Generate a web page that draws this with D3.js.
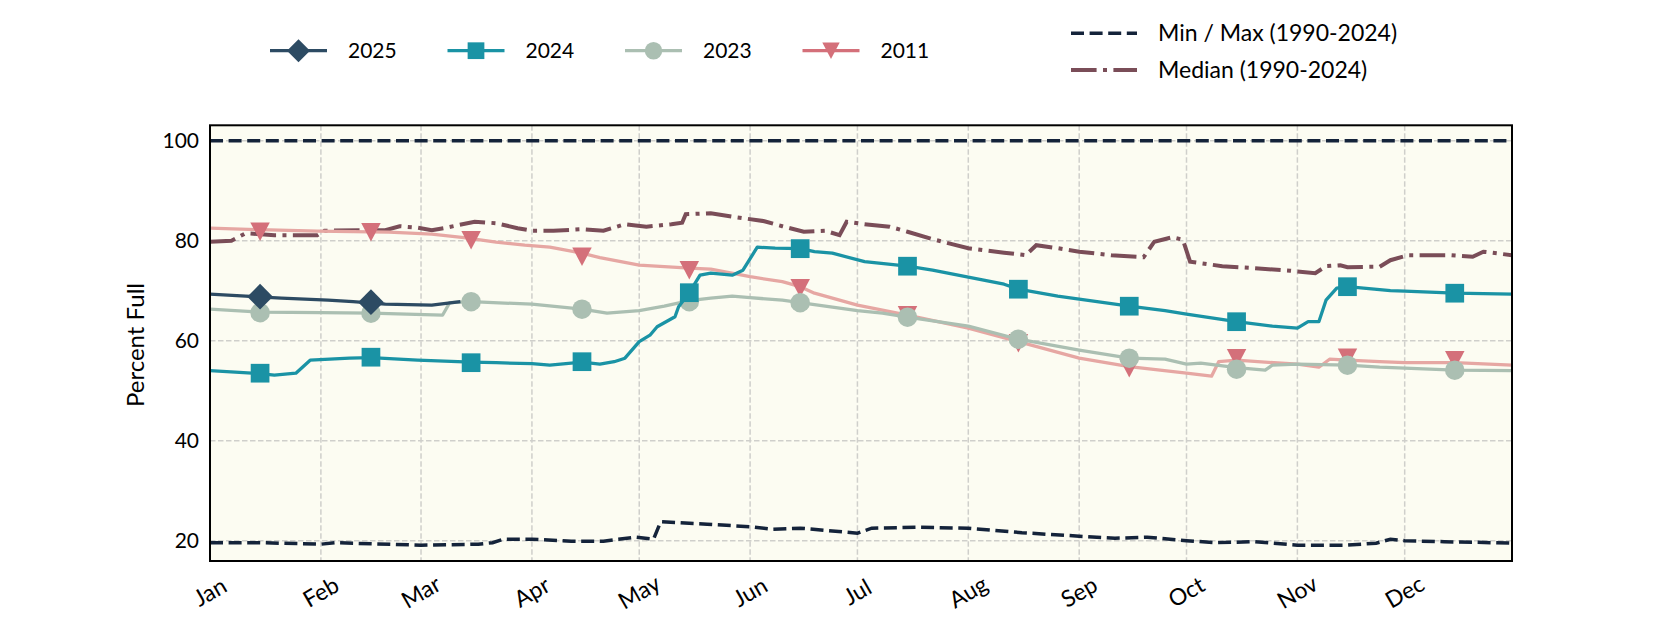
<!DOCTYPE html>
<html>

<head>
    <title>Percent Full</title>
    <script src="https://d3js.org/d3.v7.min.js"></script>
    <style>
        body { margin: 0; background: #ffffff; }
        text { font-family: Lato, "Open Sans", sans-serif; fill: #000; }
    </style>
</head>

<body>
    <script>
        // ---- data ----
        var monthLabels = ["Jan", "Feb", "Mar", "Apr", "May", "Jun", "Jul", "Aug", "Sep", "Oct", "Nov", "Dec"];
        var yTicks = [20, 40, 60, 80, 100];
        var markerDates = ["01-15", "02-15", "03-15", "04-15", "05-15", "06-15", "07-15", "08-15", "09-15", "10-15", "11-15", "12-15"];

        var dates2025 = ["01-01", "01-11", "01-21", "02-03", "02-10", "02-19", "03-04", "03-12"];
        var pct2025 = [69.3, 68.9, 68.5, 68.1, 67.8, 67.3, 67.1, 67.8];
        var markers2025 = [68.8, 67.7];

        var dates2024 = ["01-01", "01-15", "01-19", "01-25", "01-29", "02-09", "02-15", "02-28", "03-15", "03-22",
            "04-01", "04-06", "04-15", "04-20", "04-24", "04-27", "05-01", "05-04", "05-06", "05-11", "05-12",
            "05-15", "05-18", "05-21", "05-27", "05-30", "06-03", "06-08", "06-15", "06-19", "06-24", "07-03",
            "07-15", "07-22", "08-01", "08-11", "08-15", "08-26", "09-01", "09-15", "09-25", "10-01", "10-15",
            "10-25", "11-01", "11-04", "11-07", "11-09", "11-12", "11-15", "11-27", "12-01", "12-15", "12-31"];
        var pct2024 = [54.0, 53.4, 53.1, 53.5, 56.1, 56.5, 56.6, 56.1, 55.7, 55.6,
            55.4, 55.1, 55.7, 55.3, 55.8, 56.5, 59.8, 61.1, 62.8, 64.8, 66.8,
            69.6, 73.1, 73.5, 73.1, 74.1, 78.7, 78.5, 78.4, 77.8, 77.5, 75.8,
            74.9, 74.1, 72.7, 71.3, 70.3, 68.9, 68.3, 66.9, 66.0, 65.3, 63.8,
            62.9, 62.5, 63.8, 63.8, 68.1, 70.5, 70.8, 70.0, 69.9, 69.5, 69.3];
        var markers2024 = [53.5, 56.7, 55.6, 55.8, 69.6, 78.4, 74.9, 70.3, 66.9, 63.8, 70.8, 69.5];

        var dates2023 = ["01-01", "01-15", "02-01", "02-15", "03-07", "03-09", "03-15", "04-01", "04-15", "04-22",
            "05-01", "05-08", "05-15", "05-21", "05-27", "06-01", "06-10", "06-15", "06-24", "07-01", "07-08",
            "07-15", "08-01", "08-15", "09-01", "09-15", "09-25", "10-01", "10-05", "10-15", "10-23", "10-25",
            "11-01", "11-15", "11-24", "12-01", "12-15", "12-31"];
        var pct2023 = [66.3, 65.7, 65.6, 65.5, 65.1, 67.6, 67.8, 67.3, 66.3, 65.5,
            66.0, 66.9, 68.0, 68.5, 68.9, 68.6, 68.1, 67.6, 66.7, 66.0, 65.5,
            64.7, 62.9, 60.3, 58.1, 56.5, 56.3, 55.3, 55.5, 54.6, 54.1, 55.1,
            55.3, 55.1, 54.7, 54.5, 54.1, 54.0];
        var markers2023 = [65.6, 65.5, 67.8, 66.3, 67.8, 67.6, 64.7, 60.3, 56.5, 54.3, 55.1, 54.1];

        var dates2011 = ["01-01", "01-15", "01-31", "02-20", "03-04", "03-13", "03-22", "03-30", "04-06", "04-15",
            "04-20", "05-01", "05-15", "05-21", "06-01", "06-10", "06-15", "06-19", "07-01", "07-15", "08-01",
            "08-15", "09-01", "09-15", "10-01", "10-08", "10-10", "10-15", "11-01", "11-07", "11-10", "11-15",
            "11-24", "12-01", "12-15", "12-31"];
        var pct2011 = [82.5, 82.2, 81.9, 81.7, 81.3, 80.6, 79.7, 79.1, 78.7, 77.5,
            76.6, 75.1, 74.5, 74.3, 72.8, 71.8, 70.8, 69.5, 67.1, 65.1, 62.5,
            59.8, 56.5, 54.8, 53.5, 52.9, 55.8, 56.1, 55.3, 54.7, 56.3, 56.1,
            55.8, 55.6, 55.6, 55.1];
        var markers2011 = [81.8, 81.7, 80.1, 76.8, 74.1, 70.5, 65.1, 59.5, 54.5, 56.5, 56.6, 56.1];

        var datesMedian = ["01-01", "01-07", "01-11", "01-19", "01-31", "02-02", "02-13", "02-19", "02-23", "02-28",
            "03-04", "03-08", "03-16", "03-22", "03-28", "04-01", "04-07", "04-15", "04-21", "04-27", "05-03",
            "05-10", "05-13", "05-14", "05-21", "05-28", "06-05", "06-10", "06-16", "06-22", "06-26", "06-28",
            "07-03", "07-10", "07-15", "07-22", "08-01", "08-11", "08-17", "08-20", "08-26", "09-01", "09-10",
            "09-19", "09-22", "09-27", "09-30", "10-02", "10-11", "10-20", "10-30", "11-06", "11-09", "11-13",
            "11-15", "11-24", "11-27", "12-02", "12-14", "12-20", "12-23", "12-31"];
        var pctMedian = [79.8, 80.0, 81.5, 81.1, 81.1, 82.0, 82.1, 82.1, 82.9, 82.6,
            82.1, 82.6, 83.8, 83.5, 82.5, 82.0, 82.0, 82.3, 82.0, 83.3, 82.8,
            83.3, 83.6, 85.3, 85.5, 84.7, 83.9, 82.9, 81.8, 82.0, 81.1, 83.8,
            83.3, 82.8, 81.8, 80.3, 78.5, 77.6, 77.1, 79.1, 78.5, 77.8, 77.1,
            76.7, 79.8, 80.7, 80.2, 75.8, 74.9, 74.5, 74.0, 73.5, 74.9, 75.1,
            74.7, 74.8, 76.1, 77.1, 77.1, 76.8, 77.8, 77.1];

        var datesMin = ["01-01", "01-15", "02-01", "02-05", "03-01", "03-17", "03-21", "03-24", "04-01", "04-12",
            "04-21", "04-30", "05-05", "05-07", "05-20", "06-01", "06-07", "06-15", "07-01", "07-05", "07-18",
            "08-01", "08-16", "09-01", "09-11", "09-20", "10-01", "10-09", "10-20", "11-01", "11-14", "11-23",
            "11-27", "12-01", "12-12", "12-26", "12-31"];
        var pctMin = [19.6, 19.6, 19.3, 19.6, 19.1, 19.3, 19.6, 20.3, 20.3, 19.9,
            19.9, 20.7, 20.3, 23.8, 23.3, 22.8, 22.3, 22.5, 21.5, 22.5, 22.7,
            22.5, 21.6, 20.9, 20.5, 20.7, 20.0, 19.6, 19.8, 19.1, 19.1, 19.5,
            20.3, 20.0, 19.8, 19.6, 19.5];

        var datesMax = ["01-01", "12-31"];
        var pctMax = [100, 100];

        // ---- layout ----
        var width = 1680, height = 630;
        var plot = { left: 210, right: 1512, top: 125.3, bottom: 561 };
        var parseDay = d3.timeParse("%m-%d");

        var svg = d3.select("body").append("svg")
            .attr("width", width)
            .attr("height", height);

        var x = d3.scaleTime()
            .domain([parseDay("01-01"), parseDay("12-31")])
            .range([plot.left, plot.right]);
        var y = d3.scaleLinear()
            .domain([15.94, 103.08])
            .range([plot.bottom, plot.top]);

        function zip(dates, vals) {
            return dates.map(function (d, i) { return { date: parseDay(d), value: vals[i] }; });
        }

        // custom marker shapes (matplotlib-like, centred on the point)
        var diamond = {
            draw: function (ctx, size) {
                var r = Math.sqrt(size) / 2;
                ctx.moveTo(0, -r); ctx.lineTo(r, 0); ctx.lineTo(0, r); ctx.lineTo(-r, 0); ctx.closePath();
            }
        };
        var triDown = {
            draw: function (ctx, size) {
                var r = Math.sqrt(size) / 2;
                ctx.moveTo(-r, -r * 0.95); ctx.lineTo(r, -r * 0.95); ctx.lineTo(0, r * 0.95); ctx.closePath();
            }
        };

        var series = [
            { name: "2011", dates: dates2011, vals: pct2011, markers: markers2011, color: "#d4707a", lineColor: "#e6a7a3", shape: triDown, size: 380 },
            { name: "2023", dates: dates2023, vals: pct2023, markers: markers2023, color: "#abbfb2", lineColor: "#abbfb2", shape: d3.symbolCircle, size: 300 },
            { name: "2024", dates: dates2024, vals: pct2024, markers: markers2024, color: "#1a93a5", lineColor: "#1a93a5", shape: d3.symbolSquare, size: 350 },
            { name: "2025", dates: dates2025, vals: pct2025, markers: markers2025, color: "#2d4b63", lineColor: "#2d4b63", shape: diamond, size: 660 }
        ];

        // background
        svg.append("rect")
            .attr("x", plot.left).attr("y", plot.top)
            .attr("width", plot.right - plot.left).attr("height", plot.bottom - plot.top)
            .attr("fill", "#fcfcf2");

        svg.append("clipPath").attr("id", "clip")
            .append("rect")
            .attr("x", plot.left).attr("y", plot.top)
            .attr("width", plot.right - plot.left).attr("height", plot.bottom - plot.top);

        // grid
        var months = d3.timeMonth.range(parseDay("01-01"), parseDay("12-31"));
        var grid = svg.append("g").attr("stroke", "#cfcfcb").attr("stroke-width", 1.5).attr("stroke-dasharray", "5.5,2.5");
        grid.selectAll(".vg").data(months).enter().append("line")
            .attr("x1", d => x(d)).attr("x2", d => x(d))
            .attr("y1", plot.top).attr("y2", plot.bottom);
        grid.selectAll(".hg").data(yTicks).enter().append("line")
            .attr("x1", plot.left).attr("x2", plot.right)
            .attr("y1", d => y(d)).attr("y2", d => y(d));

        var line = d3.line().x(d => x(d.date)).y(d => y(d.value));
        var chart = svg.append("g").attr("clip-path", "url(#clip)");

        // min / max, median
        [zip(datesMin, pctMin), zip(datesMax, pctMax)].forEach(function (pts) {
            chart.append("path").datum(pts)
                .attr("d", line)
                .attr("fill", "none")
                .attr("stroke", "#14233a")
                .attr("stroke-width", 3.5)
                .attr("stroke-dasharray", "13,5.6");
        });
        chart.append("path").datum(zip(datesMedian, pctMedian))
            .attr("d", line)
            .attr("fill", "none")
            .attr("stroke", "#7a4d58")
            .attr("stroke-width", 4)
            .attr("stroke-dasharray", "25.6,6.4,4,6.4");

        // year series
        series.forEach(function (s) {
            chart.append("path").datum(zip(s.dates, s.vals))
                .attr("d", line)
                .attr("fill", "none")
                .attr("stroke", s.lineColor)
                .attr("stroke-width", 3.3)
                .attr("stroke-linejoin", "round");
            chart.selectAll(null).data(zip(markerDates.slice(0, s.markers.length), s.markers))
                .enter().append("path")
                .attr("transform", d => "translate(" + x(d.date) + "," + y(d.value) + ")")
                .attr("d", d3.symbol().type(s.shape).size(s.size))
                .attr("fill", s.color);
        });

        // frame
        svg.append("rect")
            .attr("x", plot.left).attr("y", plot.top)
            .attr("width", plot.right - plot.left).attr("height", plot.bottom - plot.top)
            .attr("fill", "none").attr("stroke", "#000").attr("stroke-width", 2);

        // axes labels
        svg.selectAll(".ytick").data(yTicks).enter().append("text")
            .attr("x", plot.left - 11)
            .attr("y", d => y(d))
            .attr("dy", "0.35em")
            .attr("text-anchor", "end")
            .style("font-size", "21px")
            .text(d => d);

        svg.selectAll(".xtick").data(months).enter().append("text")
            .attr("transform", (d, i) => "translate(" + x(d) + "," + (plot.bottom + 31) + ") rotate(-30)")
            .attr("dy", "0.35em")
            .attr("text-anchor", "middle")
            .style("font-size", "23px")
            .text((d, i) => monthLabels[i]);

        svg.append("text")
            .attr("transform", "translate(136,345) rotate(-90)")
            .attr("dy", "0.35em")
            .attr("text-anchor", "middle")
            .style("font-size", "24px")
            .text("Percent Full");

        // legend: years
        var legendOrder = ["2025", "2024", "2023", "2011"];
        legendOrder.forEach(function (name, i) {
            var s = series.find(d => d.name === name);
            var g = svg.append("g").attr("transform", "translate(" + (270 + i * 177.5) + ",50.7)");
            g.append("line").attr("x1", 0).attr("x2", 57).attr("y1", 0).attr("y2", 0)
                .attr("stroke", s.color).attr("stroke-width", 3.3);
            g.append("path").attr("transform", "translate(28.5,0)")
                .attr("d", d3.symbol().type(s.shape).size(s.size * 0.8))
                .attr("fill", s.color);
            g.append("text").attr("x", 78).attr("dy", "0.35em")
                .style("font-size", "21px").text(name);
        });

        // legend: reference lines
        var refLegend = [
            { label: "Min / Max (1990-2024)", color: "#14233a", width: 3.5, dash: "13,5.6", y: 33.3 },
            { label: "Median (1990-2024)", color: "#7a4d58", width: 4, dash: "25.6,6.4,4,6.4", y: 70 }
        ];
        refLegend.forEach(function (r) {
            svg.append("line").attr("x1", 1071).attr("x2", 1137).attr("y1", r.y).attr("y2", r.y)
                .attr("stroke", r.color).attr("stroke-width", r.width).attr("stroke-dasharray", r.dash);
            svg.append("text").attr("x", 1158).attr("y", r.y).attr("dy", "0.35em")
                .style("font-size", "23px").text(r.label);
        });
    </script>
</body>

</html>
